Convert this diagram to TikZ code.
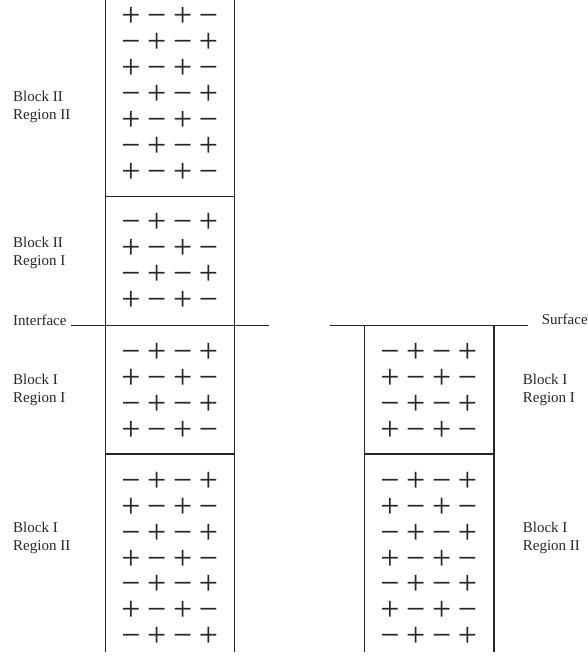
\documentclass[tikz,border=0pt]{standalone}
\usepackage{fontspec}
\setmainfont{Liberation Serif}
\newfontfamily\signfont{Liberation Serif}
\tikzset{
  wall/.style={line width=1.1pt, draw=black!85},
  lbl/.style={font=\fontsize{15}{18}\selectfont, inner sep=0pt, align=left, anchor=base west, text=black!85},
  sgn/.style={font=\signfont\fontsize{34}{34}\selectfont, inner sep=0pt, anchor=base, text height=18pt, text depth=0pt, text=black!85}
}
% #1 name, #2 x0, #3 y0 (centre of first row), #4 rows, #5 parity (0: row starts with +), #6 row step
\newcommand\signgrid[6]{%
  \foreach \r in {1,...,#4}{%
    \foreach \c in {0,...,3}{%
      \pgfmathtruncatemacro\p{mod(\r-1+\c+#5,2)}%
      \node[sgn] (#1-\r-\c) at ({#2+25.8*\c},{#3+#6*(\r-1)+11.6}) {\ifnum\p=0 +\else −\fi};
    }%
  }%
}
\begin{document}
\begin{tikzpicture}[x=1pt,y=-1pt]
\useasboundingbox (0,0) rectangle (588,659);
% left column
\coordinate (lt) at (105.5,0);
\coordinate (lb) at (105.5,652);
\coordinate (rt) at (234.5,0);
\coordinate (rb) at (234.5,652);
\draw[wall] (lt) -- (lb);
\draw[wall] (rt) -- (rb);
\coordinate (b2l) at (105.5,196.5);
\coordinate (b2r) at (234.5,196.5);
\draw[wall] (b2l) -- (b2r);
\coordinate (ifl) at (71,325.3);
\coordinate (ifr) at (269,325.3);
\draw[wall] (ifl) -- (ifr);
\coordinate (b1l) at (105.5,454);
\coordinate (b1r) at (234.5,454);
\draw[wall] (b1l) -- (b1r);
% right column
\coordinate (Rlt) at (364.5,325.3);
\coordinate (Rlb) at (364.5,652);
\coordinate (Rrt) at (494,325.3);
\coordinate (Rrb) at (494,652);
\draw[wall] (Rlt) -- (Rlb);
\draw[wall] (Rrt) -- (Rrb);
\coordinate (sfl) at (330,325.3);
\coordinate (sfr) at (528,325.3);
\draw[wall] (sfl) -- (sfr);
\coordinate (Rb1l) at (364.5,454);
\coordinate (Rb1r) at (494,454);
\draw[wall] (Rb1l) -- (Rb1r);
% signs
\signgrid{a}{131}{14.5}{7}{0}{26}
\signgrid{b}{131}{221}{4}{1}{26}
\signgrid{c}{131}{350.5}{4}{1}{26}
\signgrid{d}{131}{480}{7}{1}{25.8}
\signgrid{e}{390}{350.5}{4}{1}{26}
\signgrid{f}{390}{480}{7}{1}{25.8}
% labels (anchor at the baseline of the second line)
\node[lbl] (l1) at (13,119.5) {Block II\\Region II};
\node[lbl] (l2) at (13,265.5) {Block II\\Region I};
\node[lbl] (l3) at (13,325) {Interface};
\node[lbl] (l4) at (13,402.5) {Block I\\Region I};
\node[lbl] (l5) at (13,550.3) {Block I\\Region II};
\node[lbl] (l6) at (541.7,324.5) {Surface};
\node[lbl] (l7) at (522.7,402.5) {Block I\\Region I};
\node[lbl] (l8) at (522.7,550.3) {Block I\\Region II};
\end{tikzpicture}
\end{document}
